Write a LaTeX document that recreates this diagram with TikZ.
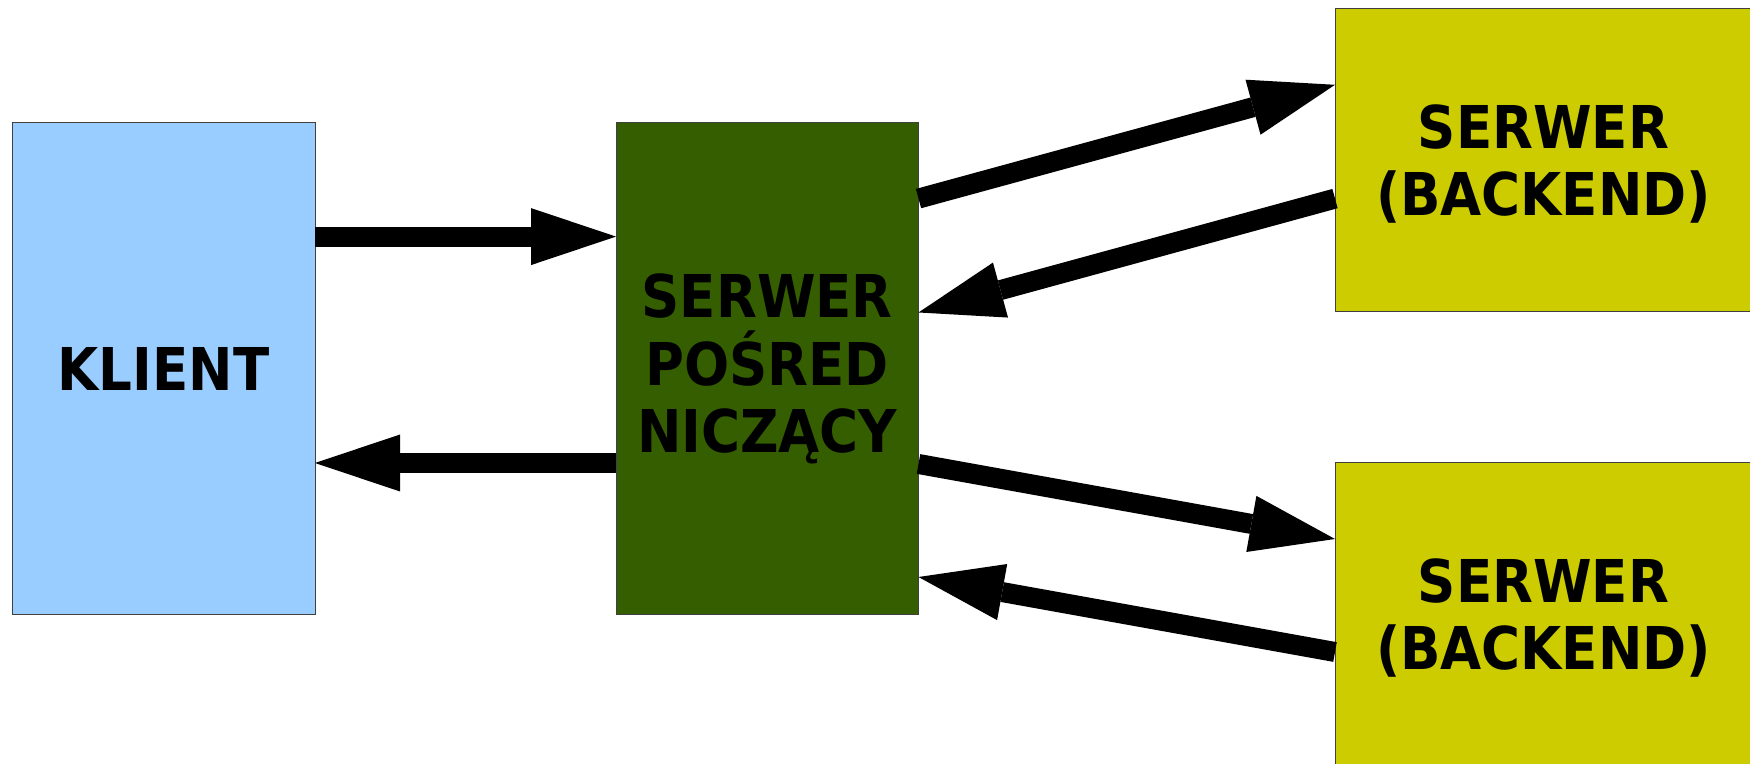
\documentclass[tikz,border=0pt]{standalone}
\usepackage{fontspec}
\newfontfamily\boxfont{DejaVu Sans Condensed}
\usetikzlibrary{arrows.meta}
\definecolor{klientc}{HTML}{99CCFF}
\definecolor{midc}{HTML}{355E00}
\definecolor{backc}{HTML}{CCCC00}
\begin{document}
\begin{tikzpicture}[x=1pt,y=1pt,
  box/.style={draw=black!75, line width=1pt, rectangle, inner sep=0pt, outer sep=0pt,
    align=center, font=\boxfont\fontsize{59}{67.5}\selectfont\bfseries},
  conn/.style={line width=20pt, -{Triangle[length=85pt,width=57pt,line width=0pt]}}]
\useasboundingbox (0,0) rectangle (1750,763);
\node[box, fill=klientc, minimum width=303pt, minimum height=492pt] (klient) at (163.5,394) {KLIENT};
\node[box, fill=midc, minimum width=302.5pt, minimum height=492pt] (mid) at (767.25,394) {SERWER\\POŚRED\\NICZĄCY};
\node[box, fill=backc, minimum width=417pt, minimum height=303pt] (top) at (1543.5,602.5) {\raisebox{-8pt}[\height][\depth]{\begin{tabular}{@{}c@{}}SERWER\\(BACKEND)\end{tabular}}};
\node[box, fill=backc, minimum width=417pt, minimum height=303pt] (bot) at (1543.5,148.5) {\raisebox{-8pt}[\height][\depth]{\begin{tabular}{@{}c@{}}SERWER\\(BACKEND)\end{tabular}}};
\draw[conn] ([yshift=-113.6pt]klient.north east) -- ([yshift=-113.6pt]mid.north west);
\draw[conn] ([yshift=-340pt]mid.north west) -- ([yshift=-340pt]klient.north east);
\draw[conn] ([yshift=-75.6pt]mid.north east) -- ([yshift=-75.8pt]top.north west);
\draw[conn] ([yshift=-189.6pt]top.north west) -- ([yshift=-189.5pt]mid.north east);
\draw[conn] ([yshift=-341pt]mid.north east) -- ([yshift=-76pt]bot.north west);
\draw[conn] ([yshift=-189pt]bot.north west) -- ([yshift=-454pt]mid.north east);
\end{tikzpicture}
\end{document}
